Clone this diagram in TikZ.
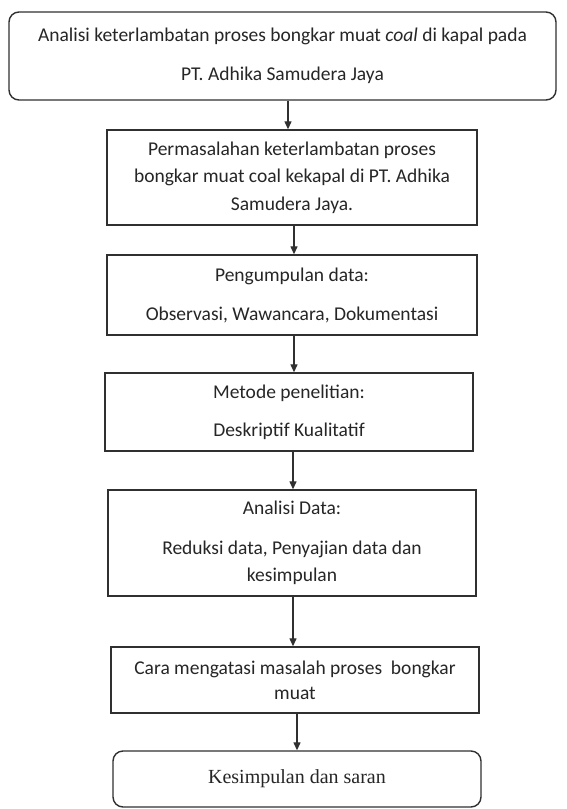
\documentclass[tikz,border=0pt]{standalone}
\usepackage{fontspec}
\setmainfont{Carlito}
\newfontfamily\serifbox{Liberation Serif}
\usetikzlibrary{arrows.meta}
\definecolor{ink}{HTML}{262626}
\definecolor{edge}{HTML}{303030}
\tikzset{
  flowbox/.style={draw=edge, line width=1.4pt, fill=white, text=ink, align=center,
    inner sep=0pt, font=\fontsize{19.5}{27.5}\selectfont},
  roundbox/.style={flowbox, rounded corners=10pt},
  arr/.style={draw=edge, line width=1.3pt, -{Triangle[length=8pt,width=7pt]}}
}
\begin{document}
\begin{tikzpicture}[x=1pt,y=-1pt]
\useasboundingbox[fill=white] (0,0) rectangle (566,809);

\node[roundbox, minimum width=547pt, minimum height=88pt] (b1) at (282.5,56)
  {Analisi keterlambatan proses bongkar muat \textit{coal} di kapal pada\\[11.5pt]PT. Adhika Samudera Jaya};
\node[flowbox, minimum width=370pt, minimum height=95pt] (b2) at (292,177.5)
  {Permasalahan keterlambatan proses\\bongkar muat coal kekapal di PT. Adhika\\Samudera Jaya.};
\node[flowbox, minimum width=370pt, minimum height=80pt] (b3) at (292,295)
  {Pengumpulan data:\\[11.5pt]Observasi, Wawancara, Dokumentasi};
\node[flowbox, minimum width=368pt, minimum height=78pt] (b4) at (289,412)
  {Metode penelitian:\\[10.5pt]Deskriptif Kualitatif};
\node[flowbox, minimum width=368pt, minimum height=106pt] (b5) at (292,543)
  {Analisi Data:\\[12.5pt]Reduksi data, Penyajian data dan\\kesimpulan};
\node[flowbox, minimum width=368pt, minimum height=66pt] (b6) at (295,680)
  {Cara mengatasi masalah proses\ \ bongkar\\[-2.5pt]muat};
\node[roundbox, minimum width=368pt, minimum height=56pt, font=\serifbox\fontsize{20}{24}\selectfont] (b7) at (297,779)
  {\raisebox{-3pt}{Kesimpulan dan saran}};

\coordinate (x12) at (288,0);
\coordinate (x23) at (294,0);
\coordinate (x34) at (294,0);
\coordinate (x45) at (293,0);
\coordinate (x56) at (293,0);
\coordinate (x67) at (297,0);

\draw[arr] (b1.south -| x12) -- (b2.north -| x12);
\draw[arr] (b2.south -| x23) -- (b3.north -| x23);
\draw[arr] (b3.south -| x34) -- (b4.north -| x34);
\draw[arr] (b4.south -| x45) -- (b5.north -| x45);
\draw[arr] (b5.south -| x56) -- (b6.north -| x56);
\draw[arr] (b6.south -| x67) -- (b7.north -| x67);
\end{tikzpicture}
\end{document}
